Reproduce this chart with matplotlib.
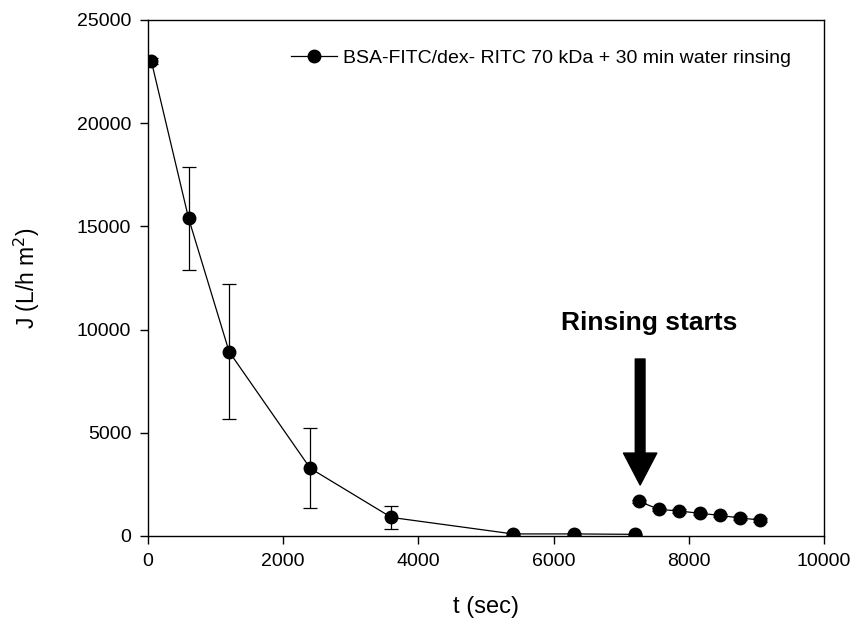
import matplotlib.pyplot as plt

plt.rcParams["font.family"] = ["Liberation Sans", "DejaVu Sans"]

# filtration stage
t_filt = [50, 600, 1200, 2400, 3600, 5400, 6300, 7200]
j_filt = [23000, 15400, 8930, 3280, 900, 100, 100, 80]
err_filt = [150, 2500, 3280, 1930, 570, 40, 40, 40]

# rinsing stage
t_rinse = [7260, 7560, 7860, 8160, 8460, 8760, 9060]
j_rinse = [1680, 1290, 1210, 1100, 1000, 870, 775]
err_rinse = [80, 80, 80, 80, 80, 80, 80]

label = "BSA-FITC/dex- RITC 70 kDa + 30 min water rinsing"

fig = plt.figure(figsize=(8.51, 6.19), dpi=100)
ax = fig.add_axes([0.1739, 0.1341, 0.7944, 0.8336])

style = dict(color="black", marker="o", markersize=9, linewidth=0.9,
             elinewidth=0.9, capsize=5, capthick=0.9)
ax.errorbar(t_filt, j_filt, yerr=err_filt, **style)
ax.errorbar(t_rinse, j_rinse, yerr=err_rinse, **style)
# legend entry without the error bar glyph
ax.plot([], [], color="black", marker="o", markersize=9, linewidth=0.9, label=label)

ax.set_xlim(0, 10000)
ax.set_ylim(0, 25000)
ax.set_xticks(range(0, 10001, 2000))
ax.set_yticks(range(0, 25001, 5000))
ax.tick_params(direction="out", length=6, width=1, labelsize=14, pad=6)
for s in ax.spines.values():
    s.set_linewidth(1)

ax.set_xlabel("t (sec)", fontsize=17, labelpad=19)
ax.set_ylabel("J (L/h m$^2$)", fontsize=16.5, labelpad=25)

# arrow marking start of rinsing
ax.annotate("", xy=(7280, 2470), xytext=(7280, 8575),
            arrowprops=dict(arrowstyle="simple,head_width=2.4,head_length=2.3,tail_width=0.7",
                            color="black", shrinkA=0, shrinkB=0))
ax.text(7420, 10300, "Rinsing starts", fontsize=19, fontweight="bold",
        ha="center", va="center")

ax.legend(loc="upper right", bbox_to_anchor=(0.951, 0.944), frameon=False,
          fontsize=14, handlelength=2.35, handletextpad=0.3,
          borderpad=0, borderaxespad=0)

fig.savefig("out.png", dpi=100)
